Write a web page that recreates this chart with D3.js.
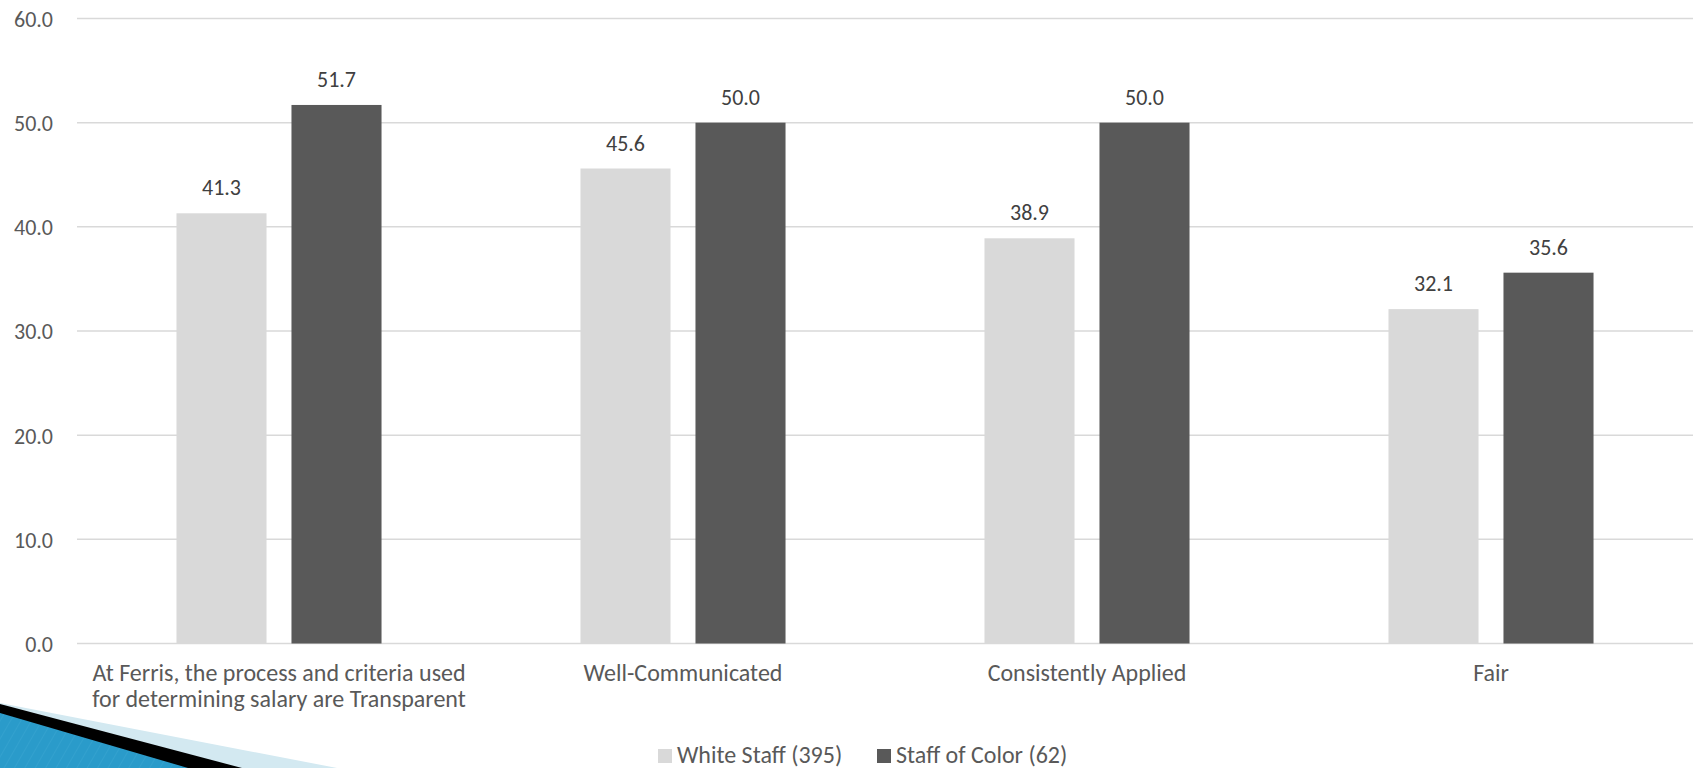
<!DOCTYPE html>
<html>
<head>
<meta charset="utf-8">
<script src="https://cdn.jsdelivr.net/npm/d3@7"></script>
<style>
  body { margin: 0; background: #fff; }
  svg text { font-family: Carlito, Calibri, Lato, sans-serif; }
</style>
</head>
<body>
<div class="chart"></div>
<script>
var width = 1698,
    height = 768;

// data
var categories = [
    ["At Ferris, the process and criteria used", "for determining salary are Transparent"],
    ["Well-Communicated"],
    ["Consistently Applied"],
    ["Fair"]
];
var seriesNames = ["White Staff (395)", "Staff of Color (62)"];
var whiteStaff = [41.3, 45.6, 38.9, 32.1];
var staffOfColor = [51.7, 50.0, 50.0, 35.6];
var yTicks = [0, 10, 20, 30, 40, 50, 60];
var colors = ["#d9d9d9", "#595959"];

var margin = {top: 18.5, right: 5, bottom: 124.5, left: 77};

var svg = d3.select(".chart")
    .append("svg")
    .attr("width", width)
    .attr("height", height);

// bottom-left decoration (slide theme ribbon)
var defs = svg.append("defs");
var pat = defs.append("pattern")
    .attr("id", "stripes")
    .attr("width", 9).attr("height", 9)
    .attr("patternUnits", "userSpaceOnUse")
    .attr("patternTransform", "rotate(30)");
pat.append("rect").attr("width", 9).attr("height", 9).attr("fill", "#2a9bca");
pat.append("line")
    .attr("x1", 0).attr("y1", 0).attr("x2", 0).attr("y2", 9)
    .attr("stroke", "#4fb3da").attr("stroke-width", 1).attr("opacity", 0.5);

var deco = svg.append("g").attr("class", "deco");
deco.append("path")
    .attr("d", "M0,703 L337,768 L0,768 Z")
    .attr("fill", "#d3e9f1");
deco.append("path")
    .attr("d", "M0,704 L242,768 L0,768 Z")
    .attr("fill", "#000");
deco.append("path")
    .attr("d", "M0,713 L188,768 L0,768 Z")
    .attr("fill", "url(#stripes)");

var x0 = d3.scaleBand()
    .domain(d3.range(categories.length))
    .range([margin.left, width - margin.right])
    .paddingInner(0)
    .paddingOuter(0);

var x1 = d3.scaleBand()
    .domain(d3.range(seriesNames.length))
    .range([0, x0.bandwidth()])
    .paddingInner(0.217)
    .paddingOuter(0.865);

var y = d3.scaleLinear()
    .domain([0, 60])
    .range([height - margin.bottom, margin.top]);

// gridlines
svg.append("g")
    .attr("class", "grid")
    .selectAll("line")
    .data(yTicks)
    .enter().append("line")
    .attr("x1", margin.left)
    .attr("x2", width - margin.right)
    .attr("y1", function (d) { return y(d); })
    .attr("y2", function (d) { return y(d); })
    .attr("stroke", "#d9d9d9")
    .attr("stroke-width", 1.5);

// y axis labels
var yAxis = d3.axisLeft(y)
    .tickValues(yTicks)
    .tickFormat(d3.format(".1f"))
    .tickSize(0)
    .tickPadding(0);

var yg = svg.append("g")
    .attr("transform", "translate(53,0)")
    .call(yAxis);
yg.select(".domain").remove();
yg.selectAll("text")
    .attr("fill", "#595959")
    .style("font-size", "22px")
    .attr("dy", "0.36em");

var rows = categories.map(function (c, i) {
    return [whiteStaff[i], staffOfColor[i]];
});

var groups = svg.append("g")
    .selectAll("g")
    .data(rows)
    .enter().append("g")
    .attr("transform", function (d, i) { return "translate(" + x0(i) + ",0)"; });

groups.selectAll("rect")
    .data(function (d) { return d; })
    .enter().append("rect")
    .attr("x", function (d, j) { return x1(j); })
    .attr("y", function (d) { return y(d); })
    .attr("width", x1.bandwidth())
    .attr("height", function (d) { return y(0) - y(d); })
    .attr("fill", function (d, j) { return colors[j]; });

groups.selectAll("text.value")
    .data(function (d) { return d; })
    .enter().append("text")
    .attr("class", "value")
    .attr("x", function (d, j) { return x1(j) + x1.bandwidth() / 2; })
    .attr("y", function (d) { return y(d) - 18; })
    .attr("text-anchor", "middle")
    .attr("fill", "#404040")
    .style("font-size", "22px")
    .text(function (d) { return d.toFixed(1); });

// category labels, one text per line
var xLabels = svg.append("g")
    .selectAll("g")
    .data(categories)
    .enter().append("g")
    .attr("transform", function (d, i) {
        return "translate(" + (x0(i) + x0.bandwidth() / 2) + ",681)";
    });

xLabels.selectAll("text")
    .data(function (d) { return d; })
    .enter().append("text")
    .attr("y", function (d, k) { return k * 26; })
    .attr("text-anchor", "middle")
    .attr("fill", "#595959")
    .style("font-size", "24px")
    .text(function (d) { return d; });

// legend
var legendX = [658, 877];
var legend = svg.append("g")
    .selectAll("g")
    .data(seriesNames)
    .enter().append("g")
    .attr("transform", function (d, i) { return "translate(" + legendX[i] + ",749)"; });

legend.append("rect")
    .attr("width", 14)
    .attr("height", 14)
    .attr("fill", function (d, i) { return colors[i]; });

legend.append("text")
    .attr("x", 19)
    .attr("y", 14)
    .attr("fill", "#595959")
    .style("font-size", "24px")
    .text(function (d) { return d; });
</script>
</body>
</html>
